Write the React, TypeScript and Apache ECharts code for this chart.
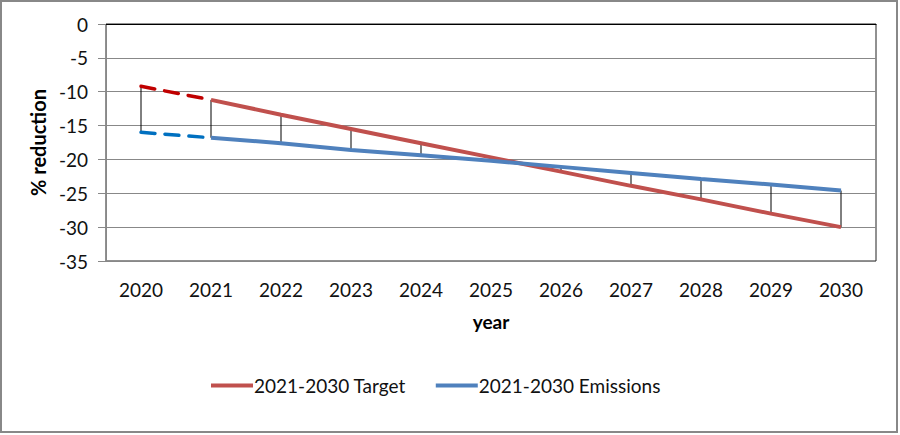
import React, { useEffect, useRef } from "react";
import * as echarts from "echarts";

const years = ["2020", "2021", "2022", "2023", "2024", "2025", "2026", "2027", "2028", "2029", "2030"];
const target = [null, -11.2, -13.4, -15.5, -17.6, -19.7, -21.8, -23.9, -25.9, -28.0, -30.0];
const emissions = [null, -16.8, -17.6, -18.6, -19.4, -20.2, -21.1, -22.0, -22.9, -23.7, -24.6];
const targetDashed = [-9.2, -11.2, null, null, null, null, null, null, null, null, null];
const emissionsDashed = [-16.0, -16.8, null, null, null, null, null, null, null, null, null];
const targetFull = [-9.2, -11.2, -13.4, -15.5, -17.6, -19.7, -21.8, -23.9, -25.9, -28.0, -30.0];
const emissionsFull = [-16.0, -16.8, -17.6, -18.6, -19.4, -20.2, -21.1, -22.0, -22.9, -23.7, -24.6];

const FONT = "Lato, 'Open Sans', sans-serif";

export default function App() {
  const ref = useRef<HTMLDivElement>(null);
  useEffect(() => {
    if (!ref.current) return;
    const chart = echarts.init(ref.current, null, { renderer: "svg" });
    const dropData = years.map((_, i) => [i, targetFull[i], emissionsFull[i]]);
    chart.setOption({
      animation: false,
      backgroundColor: "#fff",
      textStyle: { fontFamily: FONT },
      graphic: [
        {
          type: "rect",
          shape: { x: 1, y: 1, width: 896, height: 431 },
          style: { fill: "none", stroke: "#888", lineWidth: 2 },
          z: 100,
        },
      ],
      grid: {
        left: 106,
        right: 24,
        top: 24,
        bottom: 174,
        show: true,
        borderColor: "#222",
        borderWidth: 1,
        containLabel: false,
      },
      legend: {
        top: 371,
        left: 206,
        itemWidth: 42,
        itemHeight: 4,
        itemGap: 30,
        data: [
          { name: "2021-2030 Target", icon: "rect" },
          { name: "2021-2030 Emissions", icon: "rect" },
        ],
        textStyle: { fontFamily: FONT, fontSize: 19, color: "#111", padding: [0, 0, 0, -4] },
      },
      xAxis: {
        type: "category",
        data: years,
        boundaryGap: true,
        name: "year",
        nameLocation: "middle",
        nameGap: 51,
        nameTextStyle: { fontFamily: FONT, fontSize: 19, fontWeight: "bold", color: "#000" },
        axisLine: { lineStyle: { color: "#000", width: 1 } },
        axisTick: { show: false },
        axisLabel: { fontFamily: FONT, fontSize: 19, color: "#111", margin: 19 },
        splitLine: { show: false },
      },
      yAxis: {
        type: "value",
        min: -35,
        max: 0,
        interval: 5,
        name: "% reduction",
        nameLocation: "middle",
        nameGap: 55,
        nameRotate: 90,
        nameTextStyle: { fontFamily: FONT, fontSize: 20, fontWeight: "bold", color: "#000" },
        axisLine: { show: true, lineStyle: { color: "#888", width: 1 } },
        axisTick: { show: true, length: 8, lineStyle: { color: "#888" } },
        axisLabel: { fontFamily: FONT, fontSize: 19, color: "#111", margin: 18 },
        splitLine: { show: true, lineStyle: { color: "#888", width: 1 } },
      },
      series: [
        {
          type: "custom",
          name: "drop",
          silent: true,
          z: 1,
          data: dropData,
          renderItem: (params: any, api: any) => {
            const p1 = api.coord([api.value(0), api.value(1)]);
            const p2 = api.coord([api.value(0), api.value(2)]);
            return {
              type: "line",
              shape: { x1: p1[0], y1: p1[1], x2: p2[0], y2: p2[1] },
              style: { stroke: "#000", lineWidth: 1 },
            };
          },
        },
        {
          name: "2021-2030 Target",
          type: "line",
          data: target,
          z: 3,
          symbol: "none",
          color: "#C0504D",
          lineStyle: { color: "#C0504D", width: 4 },
        },
        {
          name: "2021-2030 Emissions",
          type: "line",
          data: emissions,
          z: 3,
          symbol: "none",
          color: "#4F81BD",
          lineStyle: { color: "#4F81BD", width: 4 },
        },
        {
          name: "target-dashed",
          type: "line",
          data: targetDashed,
          z: 2,
          symbol: "none",
          lineStyle: { color: "#C00000", width: 3.5, type: [14, 10], cap: "round" },
        },
        {
          name: "emissions-dashed",
          type: "line",
          data: emissionsDashed,
          z: 2,
          symbol: "none",
          lineStyle: { color: "#0070C0", width: 3.5, type: [14, 10], cap: "round" },
        },
      ],
    });
    return () => chart.dispose();
  }, []);
  return (
    <div
      ref={ref}
      style={{ position: "fixed", left: 0, top: 0, width: 900, height: 435 }}
    />
  );
}
